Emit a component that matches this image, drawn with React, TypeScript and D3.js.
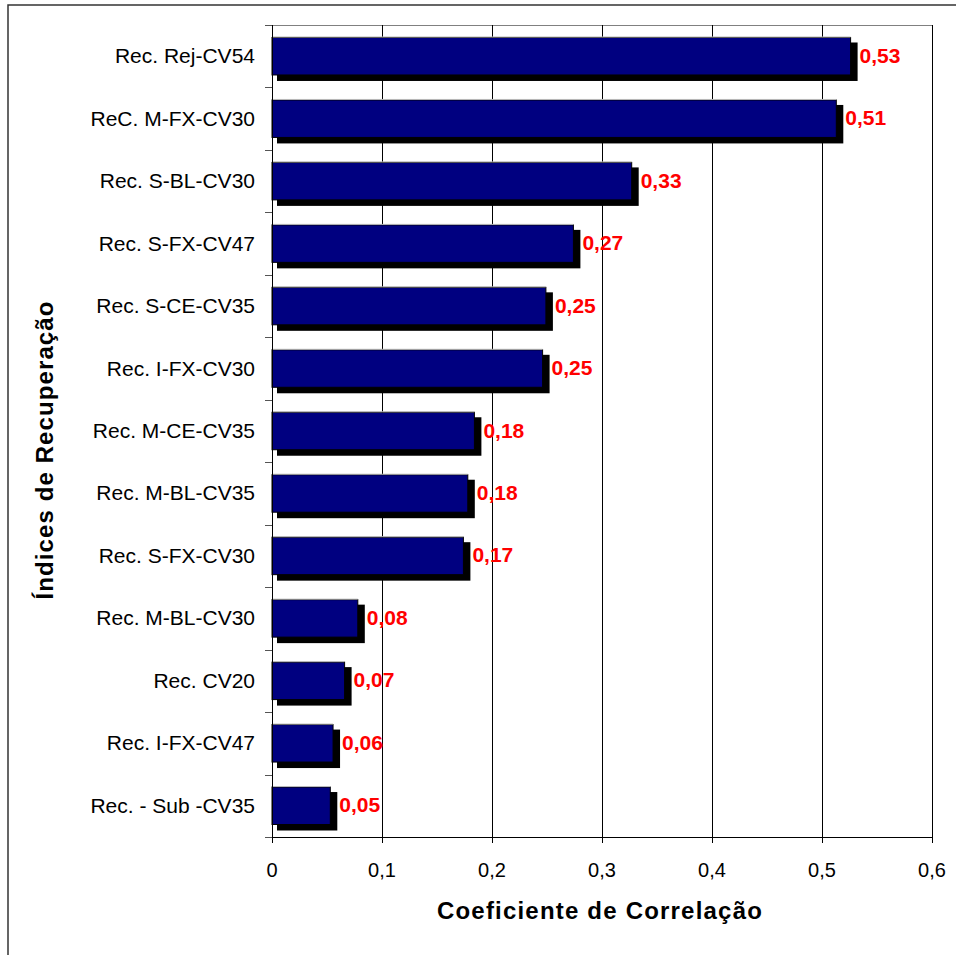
import React from "react";
import * as d3 from "d3";

const categories = [
  "Rec. Rej-CV54",
  "ReC. M-FX-CV30",
  "Rec. S-BL-CV30",
  "Rec. S-FX-CV47",
  "Rec. S-CE-CV35",
  "Rec. I-FX-CV30",
  "Rec. M-CE-CV35",
  "Rec. M-BL-CV35",
  "Rec. S-FX-CV30",
  "Rec. M-BL-CV30",
  "Rec. CV20",
  "Rec. I-FX-CV47",
  "Rec. - Sub -CV35",
];
const values = [0.526, 0.513, 0.327, 0.274, 0.249, 0.246, 0.184, 0.178, 0.174, 0.078, 0.066, 0.0555, 0.053];
const xTicks = [0, 0.1, 0.2, 0.3, 0.4, 0.5, 0.6];
const xTitle = "Coeficiente de Correlação";
const yTitle = "Índices de Recuperação";

const W = 956;
const H = 955;
const plot = { left: 272, right: 932, top: 25, bottom: 837 };
const font = "Arial, 'Liberation Sans', sans-serif";

export default function App() {
  const x = d3.scaleLinear().domain([0, 0.6]).range([plot.left, plot.right]);
  const y = d3
    .scaleBand<string>()
    .domain(categories)
    .range([plot.top, plot.bottom])
    .paddingInner(0.4)
    .paddingOuter(0.2);
  const step = y.step();
  const bw = y.bandwidth();
  const fmt = (v: number) => d3.format(".2f")(v).replace(".", ",");
  const boundaries = d3.range(categories.length + 1).map((i) => plot.top + i * step);

  return (
    <svg
      width={W}
      height={H}
      style={{ position: "absolute", left: 0, top: 0, background: "#fff" }}
      fontFamily={font}
    >
      <rect x={0} y={0} width={W} height={H} fill="#fff" />
      {/* outer chart frame */}
      <rect x={8} y={5} width={W} height={H} fill="none" stroke="#333" strokeWidth={1.5} />

      {/* plot area top border */}
      <line x1={plot.left} x2={plot.right} y1={plot.top + 0.5} y2={plot.top + 0.5} stroke="#808080" strokeWidth={1} />

      {/* gridlines */}
      {xTicks.slice(1).map((t) => (
        <line
          key={"g" + t}
          x1={Math.round(x(t)) + 0.5}
          x2={Math.round(x(t)) + 0.5}
          y1={plot.top}
          y2={plot.bottom}
          stroke="#000"
          strokeWidth={1}
        />
      ))}

      {/* bars */}
      {categories.map((c, i) => {
        const v = values[i];
        const y0 = y(c) as number;
        const x0 = x(0);
        const x1 = x(v);
        return (
          <g key={c}>
            <rect x={x0 + 5} y={y0 + 5} width={x1 - x0 + 2} height={bw + 1} fill="#000" />
            <rect x={x0} y={y0} width={x1 - x0} height={bw} fill="#000080" stroke="#000" strokeWidth={1} />
            <line x1={x0} x2={x1} y1={y0 - 0.5} y2={y0 - 0.5} stroke="#bbb" strokeWidth={1} />
            <text
              x={x1 + 9}
              y={y0 + bw / 2 - 1}
              dy="0.36em"
              fill="#ff0000"
              fontWeight="bold"
              fontSize={21}
            >
              {fmt(v)}
            </text>
          </g>
        );
      })}

      {/* y axis */}
      <line x1={plot.left + 0.5} x2={plot.left + 0.5} y1={plot.top} y2={plot.bottom} stroke="#000" strokeWidth={1} />
      {boundaries.map((b, i) => (
        <line key={"yt" + i} x1={plot.left - 7} x2={plot.left} y1={Math.round(b) + 0.5} y2={Math.round(b) + 0.5} stroke="#555" strokeWidth={1} />
      ))}
      {categories.map((c) => (
        <text
          key={"l" + c}
          x={plot.left - 17}
          y={(y(c) as number) + bw / 2 + 7}
          textAnchor="end"
          fontSize={21}
          fill="#000"
        >
          {c}
        </text>
      ))}

      {/* x axis */}
      <line x1={plot.left} x2={plot.right} y1={plot.bottom + 0.5} y2={plot.bottom + 0.5} stroke="#000" strokeWidth={1.2} />
      {xTicks.map((t) => (
        <g key={"xt" + t}>
          <line x1={Math.round(x(t)) + 0.5} x2={Math.round(x(t)) + 0.5} y1={plot.bottom} y2={plot.bottom + 6} stroke="#000" strokeWidth={1} />
          <text x={x(t)} y={plot.bottom + 40} textAnchor="middle" fontSize={20} fill="#000">
            {t === 0 ? "0" : String(t).replace(".", ",")}
          </text>
        </g>
      ))}

      {/* titles */}
      <text
        x={(plot.left + plot.right) / 2 - 2}
        y={919}
        textAnchor="middle"
        fontSize={24}
        fontWeight="bold"
        letterSpacing={1.2}
        fill="#000"
      >
        {xTitle}
      </text>
      <text
        transform={`translate(53,450) rotate(-90)`}
        textAnchor="middle"
        fontSize={24}
        fontWeight="bold"
        letterSpacing={1.1}
        fill="#000"
      >
        {yTitle}
      </text>
    </svg>
  );
}
